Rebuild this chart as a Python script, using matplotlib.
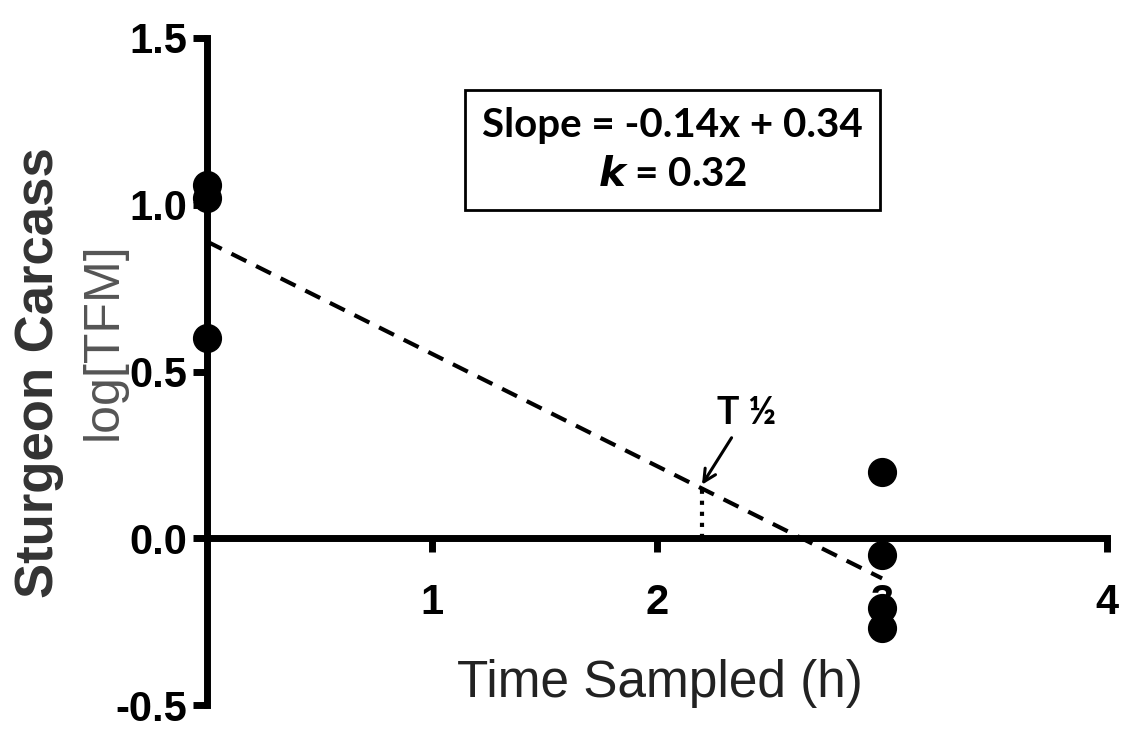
import matplotlib.pyplot as plt

# data
t0 = [0, 0, 0]
y0 = [1.06, 1.02, 0.60]
t3 = [3, 3, 3, 3]
y3 = [0.20, -0.05, -0.21, -0.27]
fit_x = [0, 3]
fit_y = [0.89, -0.12]
half_x = 2.2
half_y = 0.151
xticks = [1, 2, 3, 4]
yticks = [-0.5, 0.0, 0.5, 1.0, 1.5]

fig = plt.figure(figsize=(11.24, 7.3), dpi=100)
ax = fig.add_axes([0.184, 0.034, 0.801, 0.914])

ax.plot(fit_x, fit_y, 'k--', lw=3, dashes=(4, 2.6), zorder=3)
ax.plot([half_x, half_x], [0, half_y], 'k:', lw=3, zorder=3)
ax.plot(t0, y0, 'ko', ms=20, zorder=4, clip_on=False)
ax.plot(t3, y3, 'ko', ms=20, zorder=4, clip_on=False)

ax.set_xlim(0, 4)
ax.set_ylim(-0.5, 1.5)
for s in ['top', 'right']:
    ax.spines[s].set_visible(False)
ax.spines['bottom'].set_position(('data', 0))
ax.spines['left'].set_linewidth(5)
ax.spines['bottom'].set_linewidth(5)
ax.spines['left'].set_capstyle('projecting')
ax.spines['bottom'].set_capstyle('projecting')

ax.set_xticks(xticks)
ax.set_yticks(yticks)
ax.set_yticklabels(['%.1f' % v for v in yticks])
ax.tick_params(width=5, length=10, direction='out', pad=4)
ax.tick_params(axis='x', pad=22)
for lab in ax.get_xticklabels() + ax.get_yticklabels():
    lab.set_fontfamily('Liberation Sans')
    lab.set_fontweight('bold')
    lab.set_fontsize(30)

fig.text(0.035, 0.49, 'Sturgeon Carcass', rotation=90, ha='center', va='center',
         fontsize=38, fontweight='bold', family='Liberation Sans', color='#333333')
fig.text(0.092, 0.533, 'log[TFM]', rotation=90, ha='center', va='center',
         fontsize=36, family='Liberation Sans', color='#555555')
fig.text(0.587, 0.064, 'Time Sampled (h)', ha='center', va='center',
         fontsize=37, family='Liberation Sans', color='#222222')

ax.text(2.07, 1.165, 'Slope = -0.14x + 0.34\n$\\boldsymbol{k}$ = 0.32', ha='center', va='center',
        fontsize=29, fontweight='bold', family='Lato', linespacing=1.4,
        bbox=dict(boxstyle='square,pad=0.42', fc='white', ec='black', lw=2))

ax.annotate('T ½', xy=(half_x, half_y + 0.01), xytext=(2.4, 0.375),
            ha='center', va='center', fontsize=27, fontweight='bold', family='Lato',
            arrowprops=dict(arrowstyle='->', lw=2.2, color='black', shrinkA=4, shrinkB=0,
                            mutation_scale=22))

plt.savefig('out.png', dpi=100)
